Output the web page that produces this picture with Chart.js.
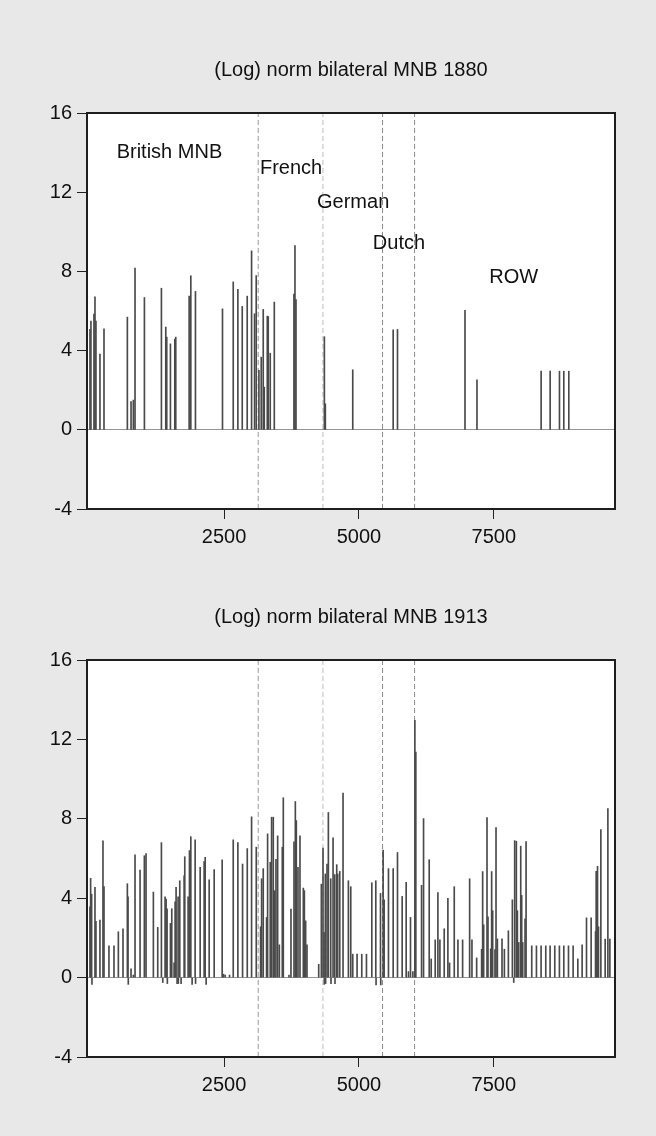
<!DOCTYPE html>
<html>
<head>
<meta charset="utf-8">
<script src="https://cdn.jsdelivr.net/npm/chart.js@4.4.1/dist/chart.umd.min.js"></script>
<style>
  body { margin: 0; background: #e8e8e8; }
  .panel { position: absolute; left: 0; width: 656px; height: 568px; }
</style>
</head>
<body>
<canvas id="chart1880" class="panel" width="656" height="568" style="top:0"></canvas>
<canvas id="chart1913" class="panel" width="656" height="568" style="top:568px"></canvas>
<script>
const FONT = '"Liberation Sans", Arial, sans-serif';

const xTicks = [2500, 5000, 7500];
const yTicks = [-4, 0, 4, 8, 12, 16];

// vertical dashed separators between the source groups
const borderObs = [3133, 4332, 5437, 6031];
const borderColors = ['#9a9a9a', '#bdbdbd', '#8a8a8a', '#8a8a8a'];

const regionNames = ['British MNB', 'French', 'German', 'Dutch', 'ROW'];
const regionX = [510, 3165, 4223, 5257, 7416];
const regionY = [14, 13.2, 11.5, 9.4, 7.67];

const obs1880 = [15, 33, 89, 108, 126, 200, 275, 708, 776, 819, 850, 1024, 1339, 1420, 1438, 1506,
  1587, 1605, 1853, 1884, 1970, 2471, 2670, 2756, 2837, 2929, 3010, 3065, 3096, 3146, 3189, 3226,
  3245, 3301, 3319, 3356, 3431, 3795, 3814, 3833, 4359, 4377, 4885, 5634, 5714, 6965, 7187, 8376,
  8543, 8716, 8796, 8889];
const mnb1880 = [5.08, 5.49, 5.84, 6.72, 5.49, 3.82, 5.10, 5.69, 1.43, 1.50, 8.17, 6.68, 7.15, 5.19, 4.68, 4.34,
  4.58, 4.68, 6.75, 7.78, 6.99, 6.11, 7.47, 7.10, 6.23, 6.75, 9.04, 5.86, 7.79, 3.00, 3.67, 6.08,
  2.15, 5.74, 5.72, 3.87, 6.45, 6.85, 9.31, 6.58, 4.70, 1.31, 3.03, 5.05, 5.07, 6.03, 2.53, 2.96,
  2.96, 2.96, 2.96, 2.96];

const obs1913 = [15, 27, 46, 52, 108, 126, 200, 256, 275, 367, 460, 541, 627, 708, 720, 725,
  776, 819, 850, 943, 1023, 1054, 1190, 1271, 1339, 1364, 1407, 1426, 1444, 1449, 1506, 1531,
  1574, 1593, 1611, 1630, 1648, 1653, 1679, 1704, 1760, 1772, 1834, 1859, 1884, 1908, 1964, 1972,
  2057, 2131, 2150, 2168, 2224, 2317,
  2465, 2490, 2521, 2602, 2670, 2756, 2843, 2930, 3010, 3097, 3177, 3196, 3226, 3288, 3307, 3356,
  3381, 3412, 3437, 3462, 3493, 3524, 3579, 3598, 3703, 3740, 3796, 3821, 3839, 3870, 3907, 3969,
  3988, 4012, 4037, 4254, 4303, 4334, 4353, 4358, 4377, 4382, 4408, 4433, 4477, 4482, 4520, 4551,
  4556, 4588, 4606, 4644, 4705, 4804, 4848,
  4885, 4965, 5052, 5139, 5238, 5312, 5317, 5399, 5404, 5448, 5467, 5547, 5634, 5714, 5801, 5875,
  5918, 5955, 5999, 6036, 6054, 6160, 6197, 6302, 6339, 6413, 6463, 6500, 6580, 6648, 6679, 6766,
  6834, 6921, 7051, 7094, 7181, 7273, 7292, 7311,
  7373, 7391, 7441, 7459, 7478, 7521, 7540, 7565, 7651, 7695, 7769, 7843, 7868, 7886, 7917, 7936,
  7961, 7998, 8016, 8035, 8078, 8097, 8202, 8289, 8375, 8462, 8542, 8629, 8715, 8796, 8883, 8969,
  9056, 9136, 9217, 9303, 9384, 9396, 9421, 9439, 9483, 9563, 9613, 9650];
const mnb1913 = [3.57, 5.00, 4.20, -0.34, 4.55, 2.83, 2.90, 6.89, 4.58, 1.60, 1.60, 2.31, 2.46, 4.73, 4.07, -0.34,
  0.44, 0.13, 6.18, 5.42, 6.14, 6.25, 4.31, 2.53, 6.80, -0.25, 4.07, 3.96, 3.47, -0.30, 2.73, 3.47,
  0.74, 3.82, 4.55, -0.30, 4.07, -0.30, 4.88, -0.30, 5.13, 6.09, 4.07, 6.40, 7.10, -0.34, 6.94, -0.30,
  5.56, 5.84, 6.06, -0.34, 4.93, 5.44,
  5.93, 0.17, 0.13, 0.13, 6.94, 6.80, 5.72, 6.50, 8.10, 6.57, 2.56, 4.98, 5.49, 3.03, 7.24, 5.81,
  8.08, 8.08, 4.38, 5.96, 7.14, 1.65, 6.57, 9.06, 0.13, 3.45, 6.84, 8.87, 7.91, 5.56, 7.14, 4.51,
  4.38, 2.86, 1.65, 0.67, 4.71, 6.53, 2.27, -0.34, 5.22, -0.30, 5.72, 8.32, 4.98, -0.30, 7.04, 5.19,
  -0.30, 5.69, 5.22, 5.35, 9.29, 4.88, 4.58,
  1.18, 1.18, 1.18, 1.18, 4.78, 4.88, -0.37, 4.24, -0.37, 6.43, 3.92, 5.49, 5.49, 6.30, 4.09, 4.80,
  0.30, 3.03, 0.30, 12.96, 11.36, 4.65, 8.01, 5.94, 0.94, 1.90, 4.28, 1.90, 2.46, 3.99, 0.74, 4.58,
  1.90, 1.90, 4.98, 1.90, 0.99, 1.43, 5.34, 2.66,
  8.06, 3.06, 1.45, 5.34, 3.37, 1.41, 7.56, 1.95, 1.95, 1.43, 2.36, 3.92, -0.25, 6.90, 6.87, 3.37,
  1.77, 6.62, 4.14, 1.77, 2.96, 6.85, 1.60, 1.60, 1.60, 1.60, 1.60, 1.60, 1.60, 1.60, 1.60, 1.60,
  0.94, 1.65, 3.01, 3.01, 2.32, 5.35, 5.61, 2.56, 7.46, 1.94, 8.52, 1.94];

// white plot area, frame, title and group labels
const panelPlugin = {
  id: 'panel',
  beforeDraw(chart) {
    const { ctx, chartArea: a } = chart;
    ctx.save();
    ctx.fillStyle = '#fff';
    ctx.fillRect(a.left, a.top, a.right - a.left, a.bottom - a.top);
    ctx.restore();
  },
  afterDraw(chart, args, opts) {
    const { ctx, chartArea: a, scales } = chart;
    ctx.save();
    ctx.strokeStyle = '#1e1e1e';
    ctx.lineWidth = 2;
    ctx.strokeRect(a.left, a.top, a.right - a.left, a.bottom - a.top);

    ctx.fillStyle = '#111';
    ctx.font = '20px ' + FONT;
    ctx.textAlign = 'center';
    ctx.textBaseline = 'middle';
    ctx.fillText(opts.title, (a.left + a.right) / 2, a.top - 43);

    if (opts.notes) {
      ctx.textAlign = 'left';
      opts.notes.forEach((name, i) => {
        ctx.fillText(name, scales.x.getPixelForValue(regionX[i]), scales.y.getPixelForValue(regionY[i]));
      });
    }
    ctx.restore();
  }
};

function buildChart(canvasId, title, obs, values, notes, padTop, padBottom) {
  const spikes = obs.map((x, i) => ({ x: x, y: values[i] }));
  const dividers = borderObs.map((x, i) => ({
    type: 'line',
    data: [{ x: x, y: -4 }, { x: x, y: 16 }],
    borderColor: borderColors[i],
    borderWidth: 1,
    borderDash: [5, 3],
    pointRadius: 0,
    order: 2
  }));

  const tickFont = { family: FONT, size: 20 };

  return new Chart(document.getElementById(canvasId), {
    type: 'bar',
    data: {
      datasets: [{
        type: 'bar',
        data: spikes,
        backgroundColor: '#4a4a4a',
        barThickness: 1,
        order: 1
      }].concat(dividers)
    },
    options: {
      responsive: false,
      devicePixelRatio: 1,
      animation: false,
      layout: { padding: { left: 0, right: 41, top: padTop, bottom: padBottom } },
      plugins: {
        legend: { display: false },
        tooltip: { enabled: false },
        panel: { title: title, notes: notes }
      },
      scales: {
        x: {
          type: 'linear',
          min: -40,
          max: 9745,
          offset: false,
          afterBuildTicks: s => { s.ticks = xTicks.map(v => ({ value: v })); },
          afterFit: s => { s.height = 40; },
          grid: { drawOnChartArea: false, offset: false, tickLength: 10, tickColor: '#222' },
          border: { display: false },
          ticks: { font: tickFont, color: '#111', padding: 6, maxRotation: 0, autoSkip: false, callback: v => String(v) }
        },
        y: {
          type: 'linear',
          min: -4,
          max: 16,
          afterBuildTicks: s => { s.ticks = yTicks.map(v => ({ value: v })); },
          afterFit: s => { s.width = 87; },
          grid: {
            color: c => (c.tick && c.tick.value === 0 ? '#949494' : 'rgba(0,0,0,0)'),
            tickColor: '#222',
            tickLength: 10
          },
          border: { display: false },
          ticks: { font: tickFont, color: '#111', padding: 5, callback: v => String(v) }
        }
      }
    },
    plugins: [panelPlugin]
  });
}

buildChart('chart1880', '(Log) norm bilateral MNB 1880', obs1880, mnb1880, regionNames, 113, 19);
buildChart('chart1913', '(Log) norm bilateral MNB 1913', obs1913, mnb1913, null, 92, 39);
</script>
</body>
</html>
